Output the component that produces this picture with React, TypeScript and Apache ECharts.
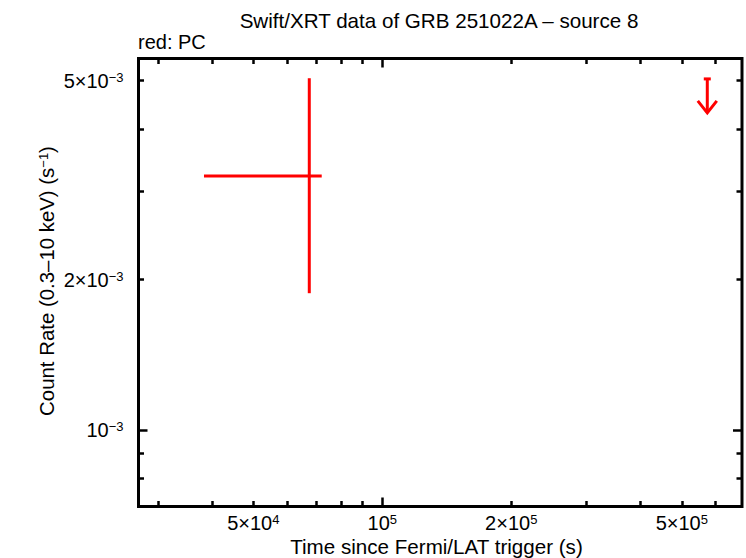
import React, { useEffect, useRef } from 'react';
import * as echarts from 'echarts';

// Axis ranges (log scale)
const xMin = 26980;
const xMax = 691100;
const yMin = 7.03e-4;
const yMax = 5.537e-3;

// Ticks and labels
const xMajorTicks = [1e5];
const xMinorTicks = [3e4, 4e4, 5e4, 6e4, 7e4, 8e4, 9e4, 2e5, 3e5, 4e5, 5e5, 6e5];
const xLabelValues = [5e4, 1e5, 2e5, 5e5];
const xLabelTexts = ['{m|5×10}{s|4}', '{m|10}{s|5}', '{m|2×10}{s|5}', '{m|5×10}{s|5}'];

const yMajorTicks = [1e-3];
const yMinorTicks = [8e-4, 9e-4, 2e-3, 3e-3, 4e-3, 5e-3];
const yLabelValues = [1e-3, 2e-3, 5e-3];
const yLabelTexts = ['{m|10}{s|−3}', '{m|2×10}{s|−3}', '{m|5×10}{s|−3}'];

// PC mode detection (time, rate with error ranges)
const pcTime = [67550];
const pcTimeLow = [38360];
const pcTimeHigh = [72220];
const pcRate = [3.224e-3];
const pcRateLow = [1.878e-3];
const pcRateHigh = [5.056e-3];

// PC mode upper limit
const ulTime = [5.735e5];
const ulRate = [5.04e-3];

const titleText = 'Swift/XRT data of GRB 251022A – source 8';
const legendText = 'red: PC';
const xTitle = 'Time since Fermi/LAT trigger (s)';
const yTitle = '{m|Count Rate (0.3–10 keV) (s}{s|−1}{m|)}';

const FONT = '"Liberation Sans", Arial, Helvetica, sans-serif';
const RED = '#ff0000';

const rich = {
  m: { fontSize: 20, fontFamily: FONT, color: '#000', lineHeight: 20 },
  s: { fontSize: 13, fontFamily: FONT, color: '#000', verticalAlign: 'top', lineHeight: 20 },
};

const richTitle = {
  m: { fontSize: 20.4, fontFamily: FONT, color: '#000', lineHeight: 20 },
  s: { fontSize: 13, fontFamily: FONT, color: '#000', verticalAlign: 'top', lineHeight: 20 },
};

function findLabel(values: number[], texts: string[], v: number) {
  for (let i = 0; i < values.length; i++) {
    if (Math.abs(v / values[i] - 1) < 1e-6) return texts[i];
  }
  return '';
}

function makeX(position: string, ticks: number[], len: number, withLabels: boolean) {
  return {
    type: 'log',
    logBase: 10,
    position,
    min: xMin,
    max: xMax,
    axisLine: { show: false, onZero: false },
    splitLine: { show: false },
    minorTick: { show: false },
    axisTick: {
      show: true,
      inside: true,
      length: len,
      customValues: ticks,
      lineStyle: { color: '#000', width: 2.5 },
    },
    axisLabel: withLabels
      ? {
          show: true,
          customValues: xLabelValues,
          margin: 6,
          formatter: (v: number) => findLabel(xLabelValues, xLabelTexts, v),
          rich,
        }
      : { show: false },
  };
}

function makeY(position: string, ticks: number[], len: number, withLabels: boolean) {
  return {
    type: 'log',
    logBase: 10,
    position,
    min: yMin,
    max: yMax,
    axisLine: { show: false, onZero: false },
    splitLine: { show: false },
    minorTick: { show: false },
    axisTick: {
      show: true,
      inside: true,
      length: len,
      customValues: ticks,
      lineStyle: { color: '#000', width: 2.5 },
    },
    axisLabel: withLabels
      ? {
          show: true,
          customValues: yLabelValues,
          margin: 15,
          formatter: (v: number) => findLabel(yLabelValues, yLabelTexts, v),
          rich,
        }
      : { show: false },
  };
}

export default function App() {
  const ref = useRef<HTMLDivElement>(null);

  useEffect(() => {
    document.body.style.margin = '0';
    if (!ref.current) return;
    const chart = echarts.init(ref.current, undefined, { renderer: 'svg' });

    const option: any = {
      animation: false,
      backgroundColor: '#fff',
      textStyle: { fontFamily: FONT },
      grid: {
        left: 138.5,
        right: 4,
        top: 58.5,
        bottom: 51.5,
        show: true,
        borderColor: '#000',
        borderWidth: 3,
        backgroundColor: 'transparent',
      },
      xAxis: [
        makeX('bottom', xMajorTicks, 9, true),
        makeX('bottom', xMinorTicks, 5.5, false),
        makeX('top', xMajorTicks, 9, false),
        makeX('top', xMinorTicks, 5.5, false),
      ],
      yAxis: [
        makeY('left', yMajorTicks, 9, true),
        makeY('left', yMinorTicks, 5.5, false),
        makeY('right', yMajorTicks, 9, false),
        makeY('right', yMinorTicks, 5.5, false),
      ],
      graphic: [
        {
          type: 'text',
          x: 439,
          y: 20,
          style: {
            text: titleText,
            font: `20.6px ${FONT}`,
            fill: '#000',
            textAlign: 'center',
            textVerticalAlign: 'middle',
          },
        },
        {
          type: 'text',
          x: 138,
          y: 42,
          style: {
            text: legendText,
            font: `20px ${FONT}`,
            fill: '#000',
            textAlign: 'left',
            textVerticalAlign: 'middle',
          },
        },
        {
          type: 'text',
          x: 436.5,
          y: 546,
          style: {
            text: xTitle,
            font: `20.6px ${FONT}`,
            fill: '#000',
            textAlign: 'center',
            textVerticalAlign: 'middle',
          },
        },
        {
          type: 'text',
          x: 47,
          y: 281,
          rotation: Math.PI / 2,
          style: {
            text: yTitle,
            rich: richTitle,
            fill: '#000',
            textAlign: 'center',
            textVerticalAlign: 'middle',
          },
        },
      ],
      series: [
        {
          type: 'custom',
          name: 'PC',
          xAxisIndex: 0,
          yAxisIndex: 0,
          clip: false,
          encode: { x: [0, 2, 3], y: [1, 4, 5] },
          data: pcTime.map((t, i) => [t, pcRate[i], pcTimeLow[i], pcTimeHigh[i], pcRateLow[i], pcRateHigh[i]]),
          renderItem: (params: any, api: any) => {
            const x = api.value(0);
            const y = api.value(1);
            const pl = api.coord([api.value(2), y]);
            const pr = api.coord([api.value(3), y]);
            const pt = api.coord([x, api.value(5)]);
            const pb = api.coord([x, api.value(4)]);
            const st = { stroke: RED, lineWidth: 3 };
            return {
              type: 'group',
              children: [
                { type: 'line', shape: { x1: pl[0], y1: pl[1], x2: pr[0], y2: pr[1] }, style: st },
                { type: 'line', shape: { x1: pt[0], y1: pt[1], x2: pb[0], y2: pb[1] }, style: st },
              ],
            };
          },
        },
        {
          type: 'custom',
          name: 'PC upper limit',
          xAxisIndex: 0,
          yAxisIndex: 0,
          clip: false,
          encode: { x: 0, y: 1 },
          data: ulTime.map((t, i) => [t, ulRate[i]]),
          renderItem: (params: any, api: any) => {
            const p = api.coord([api.value(0), api.value(1)]);
            const st = { stroke: RED, lineWidth: 3, fill: 'none' };
            return {
              type: 'group',
              children: [
                { type: 'line', shape: { x1: p[0] - 3.5, y1: p[1], x2: p[0] + 3.5, y2: p[1] }, style: st },
                { type: 'line', shape: { x1: p[0], y1: p[1], x2: p[0], y2: p[1] + 34 }, style: st },
                {
                  type: 'polyline',
                  shape: { points: [[p[0] - 9.5, p[1] + 22], [p[0], p[1] + 34], [p[0] + 9.5, p[1] + 22]] },
                  style: st,
                },
              ],
            };
          },
        },
      ],
    };

    chart.setOption(option);
    return () => chart.dispose();
  }, []);

  return <div ref={ref} style={{ width: 746, height: 558 }} />;
}
